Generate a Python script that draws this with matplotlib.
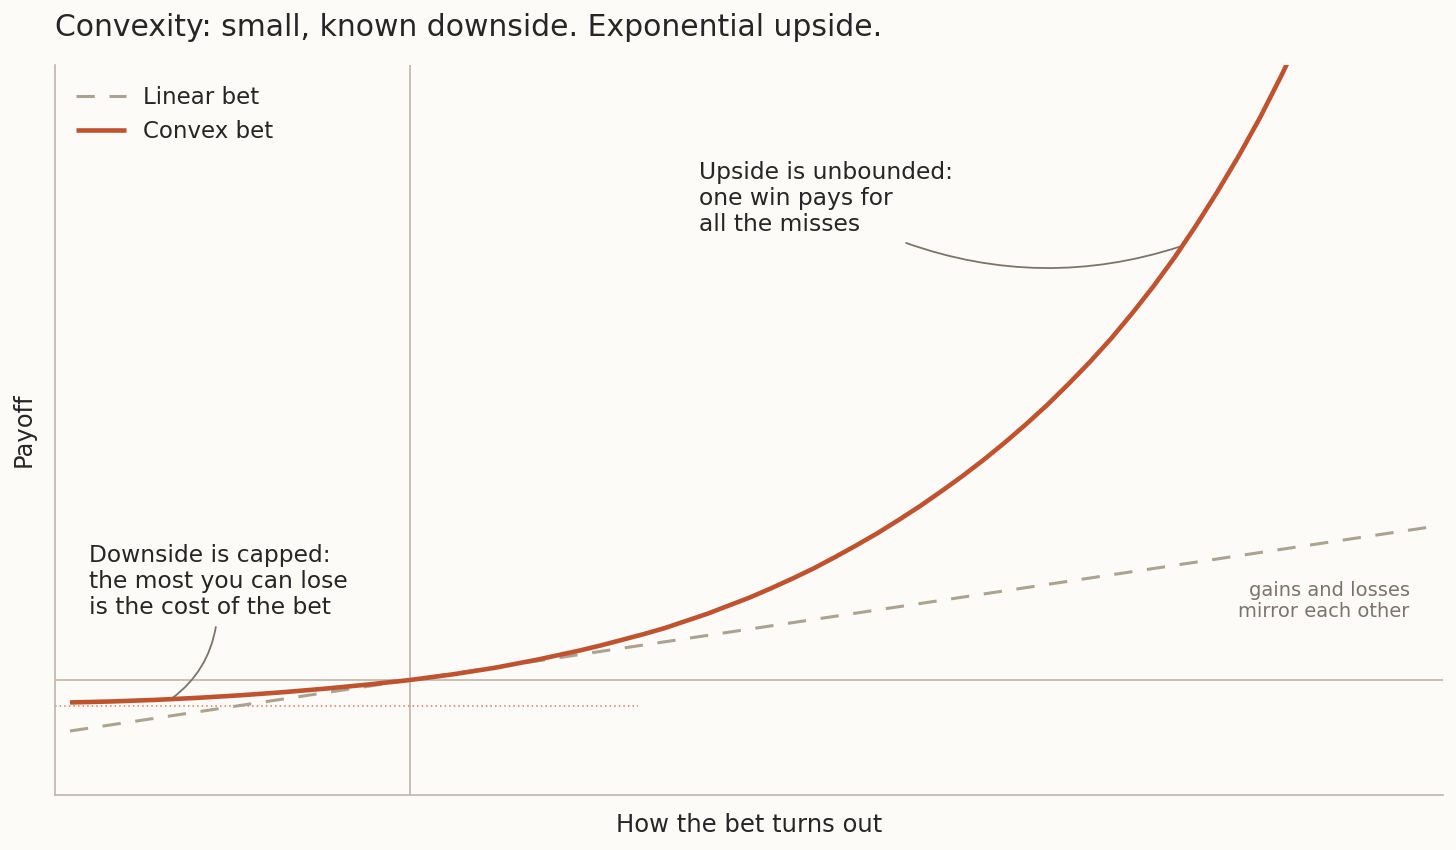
import matplotlib.pyplot as plt

# outcome axis and payoffs
x_linear = [-1.0, 3.0]
y_linear = [-1.0, 3.0]

x_convex = [-1.0, -0.875, -0.75, -0.625, -0.5, -0.375, -0.25, -0.125, 0.0,
            0.125, 0.25, 0.375, 0.5, 0.5625, 0.625, 0.6875, 0.75, 0.8125,
            0.875, 0.9375, 1.0, 1.0625, 1.125, 1.1875, 1.25, 1.3125, 1.375,
            1.4375, 1.5, 1.5625, 1.625, 1.6875, 1.75, 1.8125, 1.875, 1.9375,
            2.0, 2.0625, 2.125, 2.1875, 2.25, 2.3125, 2.375, 2.4375, 2.5,
            2.5625, 2.625]
y_convex = [-0.44, -0.42, -0.39, -0.35, -0.30, -0.24, -0.17, -0.09, 0.0,
            0.11, 0.24, 0.40, 0.58, 0.68, 0.79, 0.90, 1.02, 1.16,
            1.30, 1.46, 1.62, 1.80, 1.99, 2.19, 2.41, 2.64, 2.88,
            3.14, 3.41, 3.70, 4.00, 4.32, 4.66, 5.02, 5.40, 5.81,
            6.24, 6.70, 7.20, 7.73, 8.30, 8.92, 9.58, 10.28, 11.03,
            11.85, 12.72]

cost = -0.5
cost_line_end = 0.67

bg = '#FDFBF7'
ink = '#262626'
grey = '#7B746E'
rule = '#BDB5AD'
linear_col = '#ABA392'
convex_col = '#C0532F'

fig = plt.figure(figsize=(14.56, 8.5), dpi=100, facecolor=bg)
ax = fig.add_axes([55 / 1456, 1 - 795 / 850, 1388 / 1456, 730 / 850])
ax.set_facecolor(bg)

ax.set_xlim(-1.044, 3.038)
ax.set_ylim(-2.255, 12.06)

ax.axhline(0, color=rule, lw=1.2, zorder=1)
ax.axvline(0, color=rule, lw=1.2, zorder=1)
ax.hlines(cost, -1.044, cost_line_end, colors='#D97A60', lw=1.1,
          linestyles=(0, (1, 2)), zorder=2)

ax.plot(x_linear, y_linear, color=linear_col, lw=2.2, dashes=(6, 4.8),
        label='Linear bet', zorder=3)
ax.plot(x_convex, y_convex, color=convex_col, lw=3.3, label='Convex bet',
        solid_capstyle='butt', solid_joinstyle='round', zorder=4)

for s in ['top', 'right']:
    ax.spines[s].set_visible(False)
for s in ['left', 'bottom']:
    ax.spines[s].set_color(rule)
    ax.spines[s].set_linewidth(1.2)
ax.set_xticks([])
ax.set_yticks([])

ax.set_xlabel('How the bet turns out', fontsize=17.5, color=ink, labelpad=13)
ax.set_ylabel('Payoff', fontsize=17.5, color=ink, labelpad=14)
fig.text(55 / 1456, 1 - 36 / 850,
         'Convexity: small, known downside. Exponential upside.',
         fontsize=21.5, color=ink, va='baseline', ha='left')

leg = ax.legend(loc='upper left', frameon=False, fontsize=16.5,
                handlelength=2.2, handletextpad=0.72, labelspacing=0.5)
for t in leg.get_texts():
    t.set_color(ink)

# annotations
ax.text(-0.944, 2.66,
        'Downside is capped:\nthe most you can lose\nis the cost of the bet',
        fontsize=16.85, color=ink, va='top', ha='left', linespacing=1.17)
ax.annotate('', xy=(-0.70, -0.36), xytext=(-0.571, 1.04),
            arrowprops=dict(arrowstyle='-', color=grey, lw=1.3,
                            connectionstyle='arc3,rad=-0.2',
                            shrinkA=0, shrinkB=0))

ax.text(0.85, 10.18,
        'Upside is unbounded:\none win pays for\nall the misses',
        fontsize=16.85, color=ink, va='top', ha='left', linespacing=1.17)
ax.annotate('', xy=(2.265, 8.50), xytext=(1.459, 8.57),
            arrowprops=dict(arrowstyle='-', color=grey, lw=1.3,
                            connectionstyle='arc3,rad=0.17',
                            shrinkA=0, shrinkB=0))

ax.text(2.94, 1.94, 'gains and losses\nmirror each other', fontsize=14,
        color=grey, va='top', ha='right', multialignment='right',
        linespacing=1.15)

fig.savefig('out.png', dpi=100, facecolor=bg)
